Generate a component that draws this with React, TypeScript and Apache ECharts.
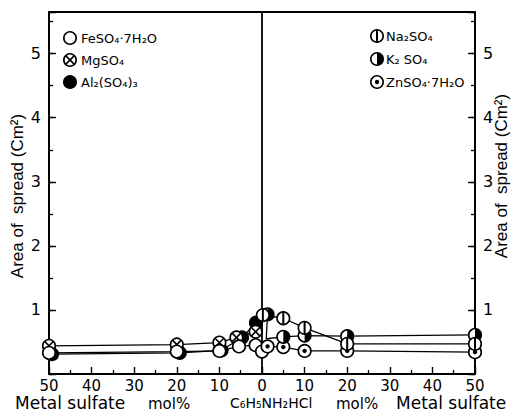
import { useEffect, useRef } from "react";
import * as echarts from "echarts";

// Left half: metal sulfate mol% (plotted to the left of 0)
const feX = [50, 20, 10, 5.4, 1.5, 0];
const feY = [0.33, 0.35, 0.36, 0.43, 0.45, 0.35];
const mgX = [50, 20, 10, 6, 1.5];
const mgY = [0.44, 0.46, 0.49, 0.57, 0.66];
const alX = [49.3, 19.3, 9.5, 4.7, 1.4];
const alY = [0.31, 0.33, 0.37, 0.57, 0.8];
// Right half
const naX = [0.2, 5, 10, 20, 50];
const naY = [0.92, 0.87, 0.72, 0.47, 0.47];
const kX = [1.3, 1.0, 5, 10, 20, 50];
const kY = [0.93, 0.55, 0.58, 0.6, 0.59, 0.61];
const kMarked = [true, false, true, true, true, true];
const znX = [1.3, 5, 10, 20, 50];
const znY = [0.43, 0.42, 0.36, 0.36, 0.34];

const yTickLabels = [1, 2, 3, 4, 5];

const FONT = "'DejaVu Sans', sans-serif";
const SANS = "'Liberation Sans', Arial, sans-serif";

type Kind = "open" | "cross" | "filled" | "vbar" | "half" | "dot";

const R = 6.3;
const LW = 1.6;

function markerChildren(kind: Kind, cx: number, cy: number, r: number = R): any[] {
  const base = {
    type: "circle",
    shape: { cx, cy, r },
    style: { fill: kind === "filled" ? "#000" : "#fff", stroke: "#000", lineWidth: LW },
  };
  const out: any[] = [base];
  if (kind === "cross") {
    const d = r * 0.7;
    out.push({ type: "line", shape: { x1: cx - d, y1: cy - d, x2: cx + d, y2: cy + d }, style: { stroke: "#000", lineWidth: LW } });
    out.push({ type: "line", shape: { x1: cx - d, y1: cy + d, x2: cx + d, y2: cy - d }, style: { stroke: "#000", lineWidth: LW } });
  } else if (kind === "vbar") {
    out.push({ type: "line", shape: { x1: cx, y1: cy - r, x2: cx, y2: cy + r }, style: { stroke: "#000", lineWidth: LW + 0.4 } });
  } else if (kind === "half") {
    out.push({
      type: "sector",
      shape: { cx, cy, r0: 0, r, startAngle: -Math.PI / 2, endAngle: Math.PI / 2, clockwise: true },
      style: { fill: "#000" },
    });
  } else if (kind === "dot") {
    out.push({ type: "circle", shape: { cx, cy, r: 2.2 }, style: { fill: "#000" } });
  }
  return out;
}

const seriesDefs: { name: string; side: number; xs: number[]; ys: number[]; kind: Kind; marked?: boolean[] }[] = [
  { name: "Al2(SO4)3", side: -1, xs: alX, ys: alY, kind: "filled" },
  { name: "MgSO4", side: -1, xs: mgX, ys: mgY, kind: "cross" },
  { name: "FeSO4·7H2O", side: -1, xs: feX, ys: feY, kind: "open" },
  { name: "ZnSO4·7H2O", side: 1, xs: znX, ys: znY, kind: "dot" },
  { name: "K2SO4", side: 1, xs: kX, ys: kY, kind: "half", marked: kMarked },
  { name: "Na2SO4", side: 1, xs: naX, ys: naY, kind: "vbar" },
];

function buildOption() {
  const series: any[] = [];
  seriesDefs.forEach((s, idx) => {
    const pts = s.xs.map((x, i) => [s.side * x, s.ys[i]]);
    const line: any = {
      type: "line",
      name: s.name + " line",
      data: pts,
      symbol: "none",
      lineStyle: { color: "#000", width: 1.3 },
      z: 2,
      silent: true,
    };
    if (idx === 0) {
      line.markLine = {
        silent: true,
        symbol: "none",
        label: { show: false },
        lineStyle: { color: "#000", width: 1.8, type: "solid" },
        data: [{ xAxis: 0 }],
      };
    }
    series.push(line);
  });
  seriesDefs.forEach((s) => {
    const pts = s.xs
      .map((x, i) => [s.side * x, s.ys[i]])
      .filter((_, i) => !s.marked || s.marked[i]);
    series.push({
      type: "custom",
      name: s.name,
      data: pts,
      z: 5,
      silent: true,
      renderItem: (_params: any, api: any) => {
        const p = api.coord([api.value(0), api.value(1)]);
        return { type: "group", children: markerChildren(s.kind, p[0], p[1]) };
      },
    });
  });

  const axisLine = { show: true, onZero: false, lineStyle: { color: "#000", width: 1.8 } };
  const yLabel = {
    show: true,
    color: "#000",
    fontFamily: FONT,
    fontSize: 16,
    margin: 8,
    formatter: (v: number) => (yTickLabels.includes(v) ? String(v) : ""),
  };
  const yMajor = (pos: "left" | "right") => ({
    type: "value",
    position: pos,
    min: 0,
    max: 5.65,
    interval: 1,
    axisLine,
    axisTick: { show: true, inside: true, length: 7, lineStyle: { color: "#000", width: 1.4 } },
    axisLabel: yLabel,
    splitLine: { show: false },
  });
  const yMinor = (pos: "left" | "right") => ({
    type: "value",
    position: pos,
    min: 0,
    max: 5.65,
    interval: 0.5,
    axisLine: { show: false, onZero: false },
    axisTick: { show: true, inside: true, length: 4, lineStyle: { color: "#000", width: 1.3 } },
    axisLabel: { show: false },
    splitLine: { show: false },
  });

  const legendLeft = [
    { kind: "open" as Kind, y: 38, text: "FeSO₄·7H₂O" },
    { kind: "cross" as Kind, y: 60, text: "MgSO₄" },
    { kind: "filled" as Kind, y: 82, text: "Al₂(SO₄)₃" },
  ];
  const legendRight = [
    { kind: "vbar" as Kind, y: 36, text: "Na₂SO₄" },
    { kind: "half" as Kind, y: 59, text: "K₂ SO₄" },
    { kind: "dot" as Kind, y: 82, text: "ZnSO₄·7H₂O" },
  ];
  const graphic: any[] = [];
  const addLegend = (items: any[], mx: number, tx: number) => {
    items.forEach((it) => {
      graphic.push({ type: "group", z: 20, children: markerChildren(it.kind, mx, it.y, 6.2) });
      graphic.push({
        type: "text",
        z: 20,
        x: tx,
        y: it.y,
        style: { text: it.text, fill: "#000", fontFamily: FONT, fontSize: 13, verticalAlign: "middle", align: "left" },
      });
    });
  };
  addLegend(legendLeft, 70, 81);
  addLegend(legendRight, 377, 386);

  const txt = (text: string, x: number, y: number, size: number, align = "left", family = FONT) => ({
    type: "text",
    x,
    y,
    z: 20,
    style: { text, fill: "#000", fontFamily: family, fontSize: size, align, verticalAlign: "middle" },
  });
  graphic.push(txt("Metal sulfate", 15, 403, 17));
  graphic.push(txt("mol%", 148, 404, 15));
  graphic.push(txt("C₆H₅NH₂HCl", 230, 403, 14));
  graphic.push(txt("mol%", 336, 404, 15));
  graphic.push(txt("Metal sulfate", 396, 403, 17));
  graphic.push({
    type: "text",
    x: 17,
    y: 196,
    rotation: Math.PI / 2,
    z: 20,
    style: { text: "Area of  spread (Cm²)", fill: "#000", fontFamily: SANS, fontSize: 17, align: "center", verticalAlign: "middle" },
  });
  graphic.push({
    type: "text",
    x: 501,
    y: 176,
    rotation: Math.PI / 2,
    z: 20,
    style: { text: "Area of  spread (Cm²)", fill: "#000", fontFamily: SANS, fontSize: 17, align: "center", verticalAlign: "middle" },
  });

  return {
    animation: false,
    backgroundColor: "#fff",
    grid: { left: 49, right: 39, top: 12, bottom: 41, show: true, borderColor: "#000", borderWidth: 1.8, backgroundColor: "transparent" },
    xAxis: {
      type: "value",
      min: -50,
      max: 50,
      interval: 10,
      axisLine,
      axisTick: { show: true, inside: true, length: 7, lineStyle: { color: "#000", width: 1.4 } },
      minorTick: { show: true, splitNumber: 2, length: 4, lineStyle: { color: "#000", width: 1.3 } },
      axisLabel: { color: "#000", fontFamily: FONT, fontSize: 15, margin: 4, formatter: (v: number) => String(Math.abs(v)) },
      splitLine: { show: false },
      minorSplitLine: { show: false },
    },
    yAxis: [yMajor("left"), yMajor("right"), yMinor("left"), yMinor("right")],
    series,
    graphic,
  };
}

export default function App() {
  const ref = useRef<HTMLDivElement>(null);
  useEffect(() => {
    const chart = echarts.init(ref.current!, null, { renderer: "svg" });
    chart.setOption(buildOption() as any);
    return () => chart.dispose();
  }, []);
  return <div ref={ref} style={{ position: "fixed", left: 0, top: 0, width: 514, height: 415, background: "#fff" }} />;
}
